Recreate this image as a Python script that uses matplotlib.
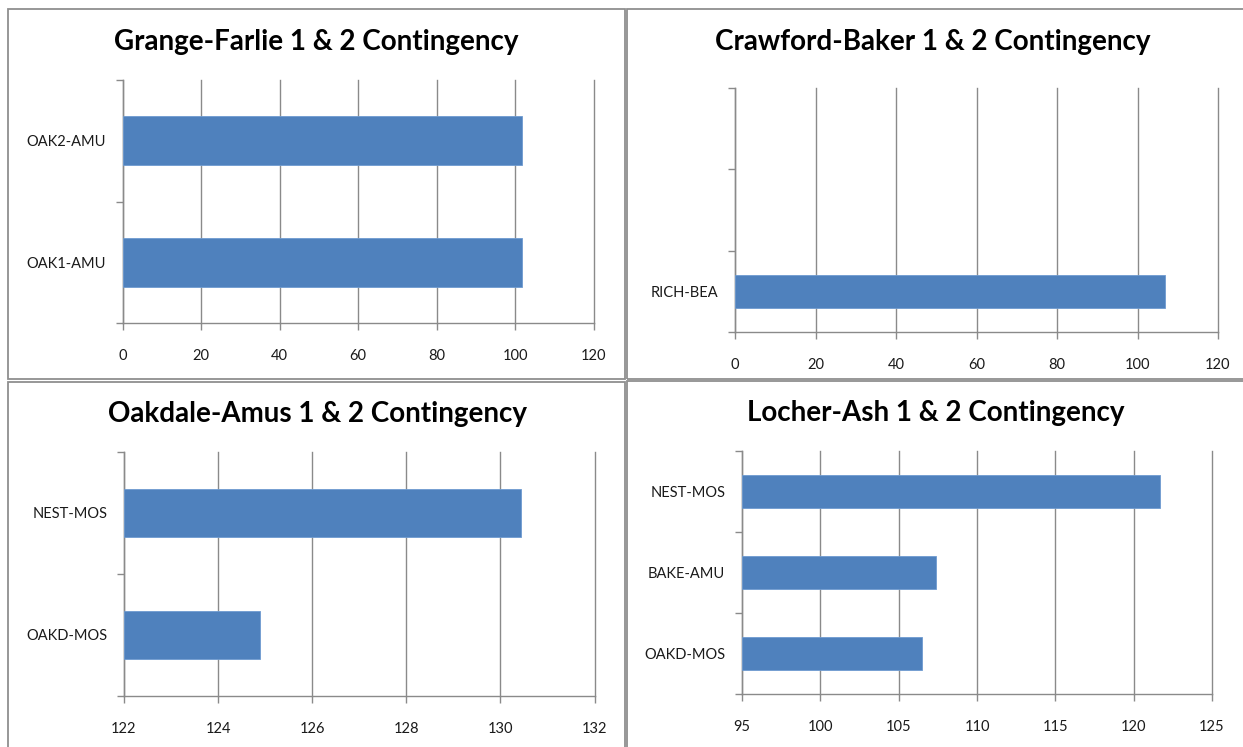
import numpy as np
import matplotlib.pyplot as plt
from matplotlib.patches import Rectangle

# contingency loadings per monitored element
gf_labels = ['OAK1-AMU', 'OAK2-AMU']
gf_values = [101.9, 101.9]

cb_labels = ['RICH-BEA', '', '']
cb_values = [106.8, np.nan, np.nan]

oa_labels = ['OAKD-MOS', 'NEST-MOS']
oa_values = [124.88, 130.44]

la_labels = ['OAKD-MOS', 'BAKE-AMU', 'NEST-MOS']
la_values = [106.5, 107.4, 121.7]

W, H = 1243, 747
BAR_COLOR = '#4F81BD'
GRID_COLOR = '#8a8a8a'
FONT = 'Lato'

fig = plt.figure(figsize=(W / 100, H / 100), dpi=100)
fig.patch.set_facecolor('white')


def px_box(x0, y0, x1, y1):
    # pixel box (top-left origin) -> figure fraction [left, bottom, width, height]
    return [x0 / W, 1 - y1 / H, (x1 - x0) / W, (y1 - y0) / H]


def chart(box, title, title_xy, labels, values, xlim, step):
    ax = fig.add_axes(px_box(*box))
    pos = np.arange(len(labels))
    lo = xlim[0]
    # bars start at the axis minimum, as the spreadsheet draws them
    ax.barh(pos, np.array(values) - lo, height=0.4, left=lo, color=BAR_COLOR,
            edgecolor='#6f9bd0', linewidth=0.6, zorder=3)
    ax.set_xlim(*xlim)
    ax.set_ylim(-0.5, len(labels) - 0.5)
    ax.set_xticks(np.arange(xlim[0], xlim[1] + step / 2, step))
    ax.set_yticks(pos)
    ax.set_yticklabels(labels)
    ax.set_yticks(np.arange(-0.5, len(labels), 1.0), minor=True)
    ax.tick_params(axis='y', which='major', length=0, pad=12,
                   labelsize=10.5, labelcolor='#1a1a1a')
    ax.tick_params(axis='y', which='minor', length=5, width=1,
                   color=GRID_COLOR, direction='out')
    ax.tick_params(axis='x', length=5, width=1, color=GRID_COLOR,
                   direction='out', pad=14, labelsize=10.5, labelcolor='#1a1a1a')
    for lab in ax.get_xticklabels() + ax.get_yticklabels():
        lab.set_family(FONT)
    ax.xaxis.grid(True, color=GRID_COLOR, linewidth=1, zorder=0)
    for gl in ax.get_xgridlines():
        gl.set_clip_on(False)
    ax.set_axisbelow(True)
    for side in ('top', 'right'):
        ax.spines[side].set_visible(False)
    for side in ('left', 'bottom'):
        ax.spines[side].set_color(GRID_COLOR)
        ax.spines[side].set_linewidth(1)
    ax.set_facecolor('none')
    fig.text(title_xy[0] / W, 1 - title_xy[1] / H, title, ha='center', va='center',
             family=FONT, fontweight='bold', fontsize=20, color='black')
    return ax


# chart frames
for x0, y0, x1, y1 in [(8, 9, 625, 379), (627, 9, 1250, 379),
                       (8, 382, 625, 760), (627, 381, 1250, 760)]:
    fig.patches.append(Rectangle((x0 / W, 1 - y1 / H), (x1 - x0) / W, (y1 - y0) / H,
                                 transform=fig.transFigure, fill=False,
                                 edgecolor='#8f8f8f', linewidth=1.3))

chart((122.5, 80, 593.5, 323), 'Grange-Farlie 1 & 2 Contingency', (316, 42),
      gf_labels, gf_values, (0, 120), 20)
chart((735, 88, 1218, 332), 'Crawford-Baker 1 & 2 Contingency', (933, 42),
      cb_labels, cb_values, (0, 120), 20)
chart((124, 452, 594.5, 696), 'Oakdale-Amus 1 & 2 Contingency', (317, 414),
      oa_labels, oa_values, (122, 132), 2)
chart((742, 451, 1212, 694), 'Locher-Ash 1 & 2 Contingency', (936, 413),
      la_labels, la_values, (95, 125), 5)

fig.savefig('out.png', dpi=100)
